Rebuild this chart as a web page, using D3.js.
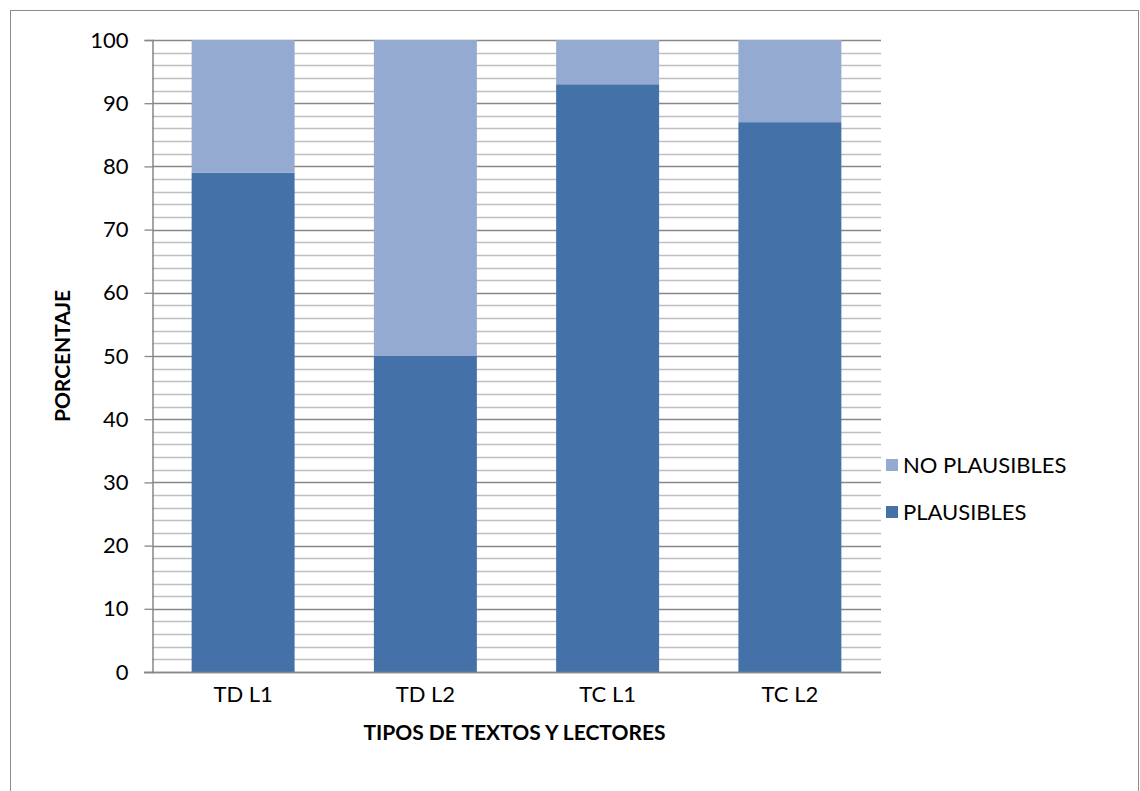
<!DOCTYPE html>
<html><head><meta charset="utf-8">
<script src="https://cdn.jsdelivr.net/npm/d3@7"></script>
<style>body{margin:0;background:#fff;} svg{display:block;font-family:Lato,"Open Sans",sans-serif;}</style>
</head><body>
<svg id="c" width="1140" height="791"></svg>
<script>
const categories = ["TD L1", "TD L2", "TC L1", "TC L2"];
const plausibles = [79, 50, 93, 87];
const noPlausibles = [21, 50, 7, 13];
const yTicks = [0, 10, 20, 30, 40, 50, 60, 70, 80, 90, 100];
const seriesNames = ["PLAUSIBLES", "NO PLAUSIBLES"];
const colors = ["#4472A8", "#94AAD1"];

const FONT = "Lato, 'Open Sans', sans-serif";
const svg = d3.select("#c");
svg.append("rect").attr("x", 10.5).attr("y", 10.5).attr("width", 1128).attr("height", 800)
  .attr("fill", "#fff").attr("stroke", "#8c8c8c").attr("stroke-width", 1);

const L = 152, R = 881, T = 40, B = 672;
const x = d3.scaleBand().domain(categories).range([L, R]).paddingInner(0.435).paddingOuter(0.2175);
const y = d3.scaleLinear().domain([0, 100]).range([B, T]);

// minor gridlines
const minor = d3.range(0, 101, 2).filter(v => v % 10 !== 0);
svg.append("g").selectAll("line").data(minor).join("line")
  .attr("x1", L).attr("x2", R).attr("y1", d => Math.round(y(d)) + 0.5).attr("y2", d => Math.round(y(d)) + 0.5)
  .attr("stroke", "#bfbfbf").attr("stroke-width", 1.3);
// major gridlines
svg.append("g").selectAll("line").data(yTicks).join("line")
  .attr("x1", L).attr("x2", R).attr("y1", d => Math.round(y(d)) + 0.5).attr("y2", d => Math.round(y(d)) + 0.5)
  .attr("stroke", "#888").attr("stroke-width", 1.3);

// stacked bars
const rows = categories.map((c, i) => ({cat: c, PLAUSIBLES: plausibles[i], "NO PLAUSIBLES": noPlausibles[i]}));
const stack = d3.stack().keys(seriesNames)(rows);
svg.append("g").selectAll("g").data(stack).join("g").attr("fill", (d, i) => colors[i])
  .selectAll("rect").data(d => d).join("rect")
  .attr("x", d => x(d.data.cat)).attr("width", x.bandwidth())
  .attr("y", d => y(d[1])).attr("height", d => y(d[0]) - y(d[1]));

// y axis
const yAxis = d3.axisLeft(y).tickValues(yTicks).tickSize(8).tickPadding(16);
const gy = svg.append("g").attr("transform", `translate(${L + 0.5},0)`).call(yAxis);
gy.select(".domain").attr("stroke", "#888").attr("stroke-width", 1.5);
gy.selectAll(".tick line").attr("stroke", "#888").attr("stroke-width", 1.3);
gy.selectAll(".tick text").attr("font-size", 22).attr("fill", "#000").attr("font-family", FONT);

// x axis
const xAxis = d3.axisBottom(x).tickSize(0).tickPadding(14);
const gx = svg.append("g").attr("transform", `translate(0,${B + 0.5})`).call(xAxis);
gx.select(".domain").attr("d", `M${L - 8},0H${R}`).attr("stroke", "#888").attr("stroke-width", 1.5);
gx.selectAll(".tick text").attr("font-size", 22).attr("fill", "#000").attr("font-family", FONT);

// axis titles
svg.append("text").attr("x", (L + R) / 2 - 2).attr("y", 740).attr("text-anchor", "middle")
  .attr("font-weight", "bold").attr("font-size", 21).attr("font-family", FONT).text("TIPOS DE TEXTOS Y LECTORES");
svg.append("text").attr("transform", `translate(70,${(T + B) / 2}) rotate(-90)`).attr("text-anchor", "middle")
  .attr("font-weight", "bold").attr("font-size", 21).attr("font-family", FONT).text("PORCENTAJE");

// legend
const legendItems = [{name: seriesNames[1], color: colors[1], y: 465}, {name: seriesNames[0], color: colors[0], y: 512}];
const lg = svg.append("g").selectAll("g").data(legendItems).join("g");
lg.append("rect").attr("x", 886).attr("y", d => d.y - 6).attr("width", 12).attr("height", 12).attr("fill", d => d.color);
lg.append("text").attr("x", 903).attr("y", d => d.y + 8).attr("font-size", 22).attr("font-family", FONT).text(d => d.name);
</script>
</body></html>
